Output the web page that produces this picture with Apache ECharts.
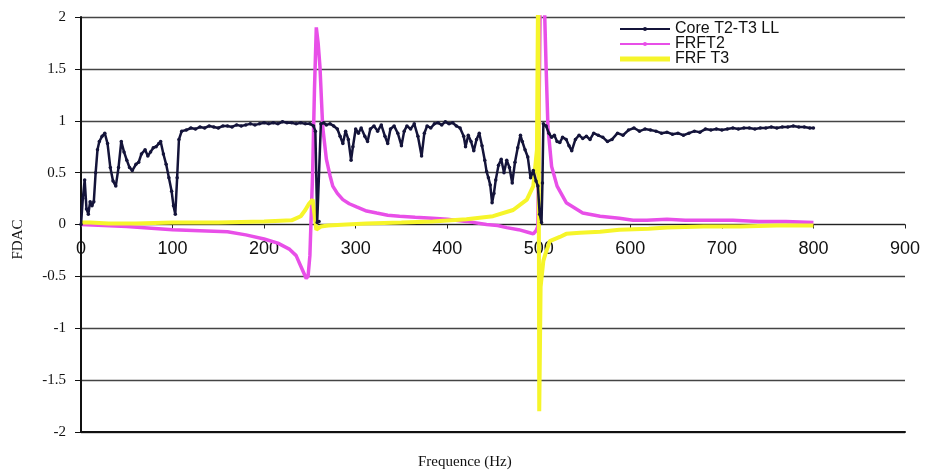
<!DOCTYPE html>
<html>
<head>
<meta charset="utf-8">
<script src="https://cdn.jsdelivr.net/npm/echarts@6/dist/echarts.min.js"></script>
<style>
html,body{margin:0;padding:0;background:#fff;}
#c{width:930px;height:474px;}
</style>
</head>
<body>
<div id="c"></div>
<script>
// ---- Data ----
var coreFreq = [0,2,4,6,8,10,12,14,16,18,20,23,26,29,32,35,38,41,44,47,50,53,56,60,63,66,70,73,76,79,82,85,87,90,93,96,99,101,103,105,107,110,
  115,120,125,130,135,140,145,150,155,160,165,170,175,180,185,190,195,200,205,210,215,220,225,230,235,240,245,250,254,256,258,260,262,
  265,268,272,276,280,283,286,289,292,295,297,300,303,306,310,313,316,320,324,328,332,335,338,342,346,350,353,356,360,364,368,372,375,378,382,386,390,394,398,402,406,410,414,418,
  420,423,426,429,432,435,438,441,443,445,447,449,451,453,456,459,462,465,468,471,474,477,480,482,485,488,491,494,497,499,501,503,504,505,
  508,511,514,517,520,523,526,530,533,536,540,544,548,552,556,560,565,570,575,580,586,592,598,604,610,616,622,628,634,640,646,652,658,664,670,676,682,688,694,700,
  706,712,718,724,730,736,742,748,754,760,766,772,778,784,790,796,800];
var coreVal = [0.0,0.25,0.43,0.15,0.1,0.22,0.18,0.22,0.5,0.72,0.8,0.85,0.88,0.78,0.55,0.42,0.37,0.55,0.8,0.7,0.62,0.55,0.52,0.58,0.6,0.68,0.72,0.66,0.7,0.74,0.75,0.78,0.8,0.68,0.58,0.45,0.32,0.18,0.1,0.45,0.82,0.9,
  0.91,0.93,0.92,0.94,0.93,0.95,0.94,0.93,0.95,0.95,0.94,0.96,0.95,0.96,0.97,0.96,0.97,0.98,0.97,0.98,0.97,0.99,0.98,0.98,0.97,0.98,0.97,0.97,0.95,0.9,0.02,0.03,0.97,
  0.98,0.96,0.97,0.95,0.92,0.85,0.78,0.9,0.82,0.62,0.75,0.92,0.88,0.93,0.85,0.8,0.92,0.95,0.9,0.96,0.85,0.78,0.92,0.95,0.88,0.76,0.9,0.95,0.92,0.97,0.85,0.66,0.88,0.95,0.93,0.97,0.98,0.96,0.99,0.97,0.98,0.95,0.93,0.85,
  0.75,0.86,0.8,0.71,0.82,0.88,0.76,0.62,0.51,0.45,0.38,0.21,0.3,0.43,0.57,0.63,0.5,0.62,0.55,0.4,0.6,0.74,0.86,0.8,0.72,0.65,0.45,0.52,0.42,0.37,0.1,0.02,0.4,0.97,
  0.95,0.88,0.84,0.86,0.8,0.79,0.84,0.82,0.76,0.71,0.82,0.86,0.83,0.85,0.82,0.88,0.86,0.84,0.8,0.82,0.88,0.86,0.91,0.93,0.9,0.92,0.91,0.9,0.88,0.89,0.87,0.88,0.86,0.88,0.9,0.89,0.92,0.91,0.92,0.91,
  0.92,0.93,0.92,0.93,0.93,0.92,0.93,0.93,0.94,0.93,0.94,0.94,0.95,0.94,0.94,0.93,0.93];

var frft2Freq = [0,50,100,130,160,180,200,215,228,235,239,243,246,248,250,253,255,257,259,261,264,268,272,275,280,286,293,301,312,323,335,348,365,384,400,421,443,455,465,478,490,494,497,499,502,505,508,510,514,520,530,548,567,588,603,618,640,660,676,700,712,740,770,800];
var frft2Val  = [0.0,-0.02,-0.05,-0.06,-0.07,-0.1,-0.14,-0.18,-0.24,-0.3,-0.38,-0.46,-0.52,-0.5,-0.3,0.5,1.3,1.9,1.75,1.52,0.94,0.63,0.47,0.37,0.3,0.24,0.2,0.17,0.13,0.11,0.09,0.08,0.07,0.06,0.05,0.03,0.0,-0.01,-0.03,-0.05,-0.08,-0.09,-0.06,-0.02,2.5,2.5,1.52,0.94,0.56,0.37,0.21,0.11,0.08,0.06,0.04,0.04,0.05,0.04,0.04,0.04,0.04,0.03,0.03,0.02];

var frft3Freq = [0,10,30,60,100,150,200,230,240,245,249,253,255,257,259,262,270,290,312,350,384,421,450,472,487,494,498,499.5,500.5,502,505,507,512,523,530,545,567,588,620,640,680,720,760,800];
var frft3Val  = [0.02,0.02,0.01,0.01,0.02,0.02,0.03,0.04,0.08,0.14,0.2,0.24,0.1,-0.05,-0.04,-0.02,-0.01,0.0,0.01,0.02,0.03,0.05,0.08,0.14,0.24,0.37,0.72,2.6,-1.8,-0.6,-0.35,-0.29,-0.16,-0.12,-0.09,-0.08,-0.07,-0.05,-0.04,-0.03,-0.02,-0.02,-0.01,-0.01];

var seriesNames = ['Core T2-T3 LL','FRFT2','FRF T3'];
var xTicks = {min:0, max:900, step:100};
var yTicks = {min:-2, max:2, step:0.5};

function pairs(xs, ys){ return xs.map(function(x,i){ return [x, ys[i]]; }); }

var H = 474, TOP = 17, BOTTOM = 42;
// pixel row of value 0 inside the main grid, used to place the zero-line axis grid
var zeroFromBottom = H - (TOP + (H - TOP - BOTTOM) * (yTicks.max - 0) / (yTicks.max - yTicks.min));

var chart = echarts.init(document.getElementById('c'));
chart.setOption({
  animation:false,
  backgroundColor:'#ffffff',
  grid:[
    {left:81, right:25, top:TOP, bottom:BOTTOM},
    {left:81, right:25, top:TOP, bottom:zeroFromBottom}
  ],
  legend:{
    orient:'vertical', left:614, top:16, itemWidth:50, itemHeight:5, itemGap:-1,
    data:[{name:seriesNames[0]},{name:seriesNames[1]},{name:seriesNames[2], icon:'rect'}],
    textStyle:{fontFamily:'Liberation Sans, Arial', fontSize:16, color:'#111', lineHeight:15}
  },
  xAxis:[{
    type:'value', gridIndex:0, min:xTicks.min, max:xTicks.max, interval:xTicks.step,
    axisLine:{onZero:false, lineStyle:{color:'#111', width:2}},
    axisTick:{show:false}, axisLabel:{show:false}, splitLine:{show:false}
  },{
    type:'value', gridIndex:1, min:xTicks.min, max:xTicks.max, interval:xTicks.step, position:'bottom',
    axisLine:{onZero:false, lineStyle:{color:'#222', width:1}},
    axisTick:{show:true, length:4, lineStyle:{color:'#222'}},
    axisLabel:{fontFamily:'Liberation Sans, Arial', fontSize:18, color:'#111', margin:16},
    splitLine:{show:false}
  }],
  yAxis:[{
    type:'value', gridIndex:0, min:yTicks.min, max:yTicks.max, interval:yTicks.step,
    name:'FDAC', nameLocation:'middle', nameGap:55, nameRotate:90,
    nameTextStyle:{fontFamily:'Liberation Serif, Times New Roman', fontSize:15, color:'#111', padding:[0,0,0,-30]},
    axisLine:{show:true, lineStyle:{color:'#111', width:2}},
    axisTick:{show:true, length:6, lineStyle:{color:'#111'}},
    axisLabel:{fontFamily:'Liberation Serif, Times New Roman', fontSize:15, color:'#111', margin:15},
    splitLine:{show:true, lineStyle:{color:'#444', width:1.3}}
  },{
    type:'value', gridIndex:1, min:0, max:1, show:false
  }],
  graphic:[{
    type:'text', left:418, top:455,
    style:{text:'Frequence (Hz)', font:'15px "Liberation Serif", "Times New Roman", serif', fill:'#111'}
  }],
  series:[
    {name:seriesNames[1], type:'line', data:pairs(frft2Freq, frft2Val), symbol:'circle', symbolSize:2, showSymbol:false,
     lineStyle:{color:'#e84fe8', width:3.5}, itemStyle:{color:'#e84fe8'}, z:2, clip:true},
    {name:seriesNames[2], type:'line', data:pairs(frft3Freq, frft3Val), symbol:'none',
     lineStyle:{color:'#f6f52a', width:4}, itemStyle:{color:'#f6f52a'}, z:3, clip:true},
    {name:seriesNames[0], type:'line', data:pairs(coreFreq, coreVal), symbol:'circle', symbolSize:3.5, showSymbol:true,
     lineStyle:{color:'#14143a', width:2.5}, itemStyle:{color:'#14143a'}, z:4, clip:true}
  ]
});
</script>
</body>
</html>
